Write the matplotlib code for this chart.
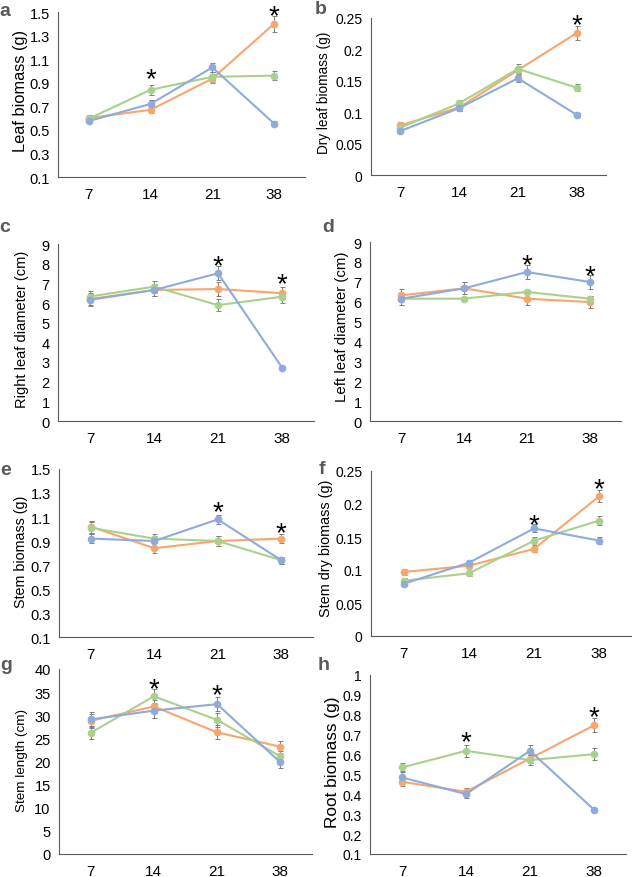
import matplotlib.pyplot as plt

plt.rcParams["font.family"] = ["Liberation Sans", "DejaVu Sans"]

days = ["7", "14", "21", "38"]

# a - leaf biomass (g)
a_orange = [0.60, 0.67, 0.935, 1.40]
a_blue = [0.575, 0.72, 1.03, 0.553]
a_green = [0.595, 0.84, 0.95, 0.96]
a_orange_err = [0.03, 0.03, 0.04, 0.07]
a_blue_err = [0.02, 0.03, 0.04, 0.02]
a_green_err = [0.03, 0.04, 0.04, 0.04]
a_stars = [(1, 1.005), (3, 1.54)]

# b - dry leaf biomass (g)
b_orange = [0.079, 0.1075, 0.167, 0.226]
b_blue = [0.070, 0.1065, 0.154, 0.096]
b_green = [0.0755, 0.114, 0.169, 0.139]
b_orange_err = [0.005, 0.005, 0.006, 0.011]
b_blue_err = [0.003, 0.004, 0.006, 0.003]
b_green_err = [0.004, 0.005, 0.007, 0.006]
b_stars = [(3, 0.253)]

# c - right leaf diameter (cm)
c_orange = [6.2, 6.66, 6.71, 6.50]
c_blue = [6.16, 6.66, 7.51, 2.72]
c_green = [6.33, 6.83, 5.89, 6.32]
c_orange_err = [0.3, 0.3, 0.35, 0.3]
c_blue_err = [0.3, 0.3, 0.35, 0.1]
c_green_err = [0.3, 0.3, 0.3, 0.3]
c_stars = [(2, 8.32), (3, 7.42)]

# d - left leaf diameter (cm)
d_orange = [6.32, 6.67, 6.15, 5.98]
d_blue = [6.15, 6.67, 7.49, 6.99]
d_green = [6.15, 6.15, 6.49, 6.15]
d_orange_err = [0.3, 0.3, 0.3, 0.3]
d_blue_err = [0.3, 0.3, 0.35, 0.35]
d_green_err = [0.1, 0.1, 0.1, 0.15]
d_stars = [(2, 8.3), (3, 7.76)]

# e - stem biomass (g)
e_orange = [1.02, 0.84, 0.90, 0.92]
e_blue = [0.92, 0.90, 1.08, 0.74]
e_green = [1.01, 0.92, 0.90, 0.74]
e_orange_err = [0.05, 0.04, 0.04, 0.04]
e_blue_err = [0.04, 0.04, 0.04, 0.03]
e_green_err = [0.05, 0.04, 0.04, 0.03]
e_stars = [(2, 1.22), (3, 1.04)]

# f - stem dry biomass (g)
f_orange = [0.097, 0.1065, 0.132, 0.212]
f_blue = [0.079, 0.111, 0.163, 0.1445]
f_green = [0.0837, 0.095, 0.1445, 0.175]
f_orange_err = [0.005, 0.004, 0.005, 0.009]
f_blue_err = [0.003, 0.004, 0.006, 0.005]
f_green_err = [0.004, 0.004, 0.006, 0.007]
f_stars = [(2, 0.182), (3, 0.236)]

# g - stem length (cm)
g_orange = [28.8, 31.9, 26.3, 23.2]
g_blue = [29.1, 31.0, 32.4, 19.8]
g_green = [26.2, 34.1, 29.0, 21.1]
g_orange_err = [1.5, 1.5, 1.5, 1.3]
g_blue_err = [1.5, 1.5, 1.5, 1.2]
g_green_err = [1.3, 1.5, 1.5, 1.2]
g_stars = [(1, 37.6), (2, 36.3)]

# h - root biomass (g)
h_orange = [0.463, 0.413, 0.58, 0.747]
h_blue = [0.485, 0.401, 0.619, 0.323]
h_green = [0.535, 0.619, 0.572, 0.602]
h_orange_err = [0.02, 0.02, 0.02, 0.035]
h_blue_err = [0.03, 0.02, 0.03, 0.01]
h_green_err = [0.025, 0.03, 0.025, 0.03]
h_stars = [(1, 0.71), (3, 0.836)]

orange = "#F7A66E"
blue = "#8FAADC"
green = "#A9D18E"

W, H = 632, 878
fig = plt.figure(figsize=(W / 100, H / 100), dpi=100)


def rect(l, r, t, b):
    return [l / W, 1 - b / H, (r - l) / W, (b - t) / H]


panels = [
    # letter, box (l, r, t, b), ylabel, ylabel centre (x, y, size), yticks, ticklabels, series, stars, letter pos
    ("a", (58, 305, 13, 178), "Leaf biomass (g)", (21, 91, 11.8),
     [0.1, 0.3, 0.5, 0.7, 0.9, 1.1, 1.3, 1.5], None,
     (a_orange, a_orange_err, a_green, a_green_err, a_blue, a_blue_err), a_stars, (-1, 12)),
    ("b", (371, 606, 19, 176), "Dry leaf biomass (g)", (324, 92.5, 9.8),
     [0, 0.05, 0.1, 0.15, 0.2, 0.25], ["0", "0.05", "0.1", "0.15", "0.2", "0.25"],
     (b_orange, b_orange_err, b_green, b_green_err, b_blue, b_blue_err), b_stars, (315, 10)),
    ("c", (58, 314, 245, 422), "Right leaf diameter (cm)", (22.5, 329, 10.5),
     list(range(0, 10)), None,
     (c_orange, c_orange_err, c_green, c_green_err, c_blue, c_blue_err), c_stars, (-1, 228)),
    ("d", (370, 621, 243, 422), "Left leaf diameter (cm)", (342, 327, 10.8),
     list(range(0, 10)), None,
     (d_orange, d_orange_err, d_green, d_green_err, d_blue, d_blue_err), d_stars, (322, 228)),
    ("e", (59, 313, 470, 638), "Stem biomass (g)", (21, 552, 10.3),
     [0.1, 0.3, 0.5, 0.7, 0.9, 1.1, 1.3, 1.5], None,
     (e_orange, e_orange_err, e_green, e_green_err, e_blue, e_blue_err), e_stars, (0, 471)),
    ("f", (371, 632, 472, 637), "Stem dry biomass (g)", (326, 548, 10.4),
     [0, 0.05, 0.1, 0.15, 0.2, 0.25], ["0", "0.05", "0.1", "0.15", "0.2", "0.25"],
     (f_orange, f_orange_err, f_green, f_green_err, f_blue, f_blue_err), f_stars, (319, 470)),
    ("g", (59, 312, 670, 855), "Stem length (cm)", (22.5, 760, 9.7),
     list(range(0, 45, 5)), None,
     (g_orange, g_orange_err, g_green, g_green_err, g_blue, g_blue_err), g_stars, (0, 666)),
    ("h", (370, 626, 676, 855), "Root biomass (g)", (332.5, 762, 12.4),
     [0.1, 0.2, 0.3, 0.4, 0.5, 0.6, 0.7, 0.8, 0.9, 1.0],
     ["0.1", "0.2", "0.3", "0.4", "0.5", "0.6", "0.7", "0.8", "0.9", "1"],
     (h_orange, h_orange_err, h_green, h_green_err, h_blue, h_blue_err), h_stars, (318, 666)),
]

x = list(range(len(days)))
star_fs = 20

for letter, box, ylabel, ylab, yticks, ytl, series, stars, lpos in panels:
    l, r, t, b = box
    ax = fig.add_axes(rect(l, r, t, b))
    o, oe, gr, ge, bl, be = series
    for vals, errs, col in [(o, oe, orange), (gr, ge, green), (bl, be, blue)]:
        ax.errorbar(x, vals, yerr=errs, color=col, marker="o", markersize=4.5,
                    linewidth=1.5, ecolor="#7F7F7F", elinewidth=0.7,
                    capsize=1.8, capthick=0.7, clip_on=False)
    for i, yv in stars:
        # put the centre of the asterisk glyph on the given value
        ax.annotate("*", (i, yv), xytext=(0, -0.58 * star_fs), textcoords="offset points",
                    ha="center", va="baseline", fontsize=star_fs, color="black",
                    annotation_clip=False)
    ax.set_xlim(-0.5, 3.5)
    ax.set_ylim(yticks[0], yticks[-1])
    ax.set_xticks(x)
    ax.set_xticklabels(days, fontsize=11)
    ax.set_yticks(yticks)
    if ytl is not None:
        ax.set_yticklabels(ytl, fontsize=10)
    else:
        ax.set_yticklabels([("%g" % v) for v in yticks], fontsize=10.5)
    ax.tick_params(length=0, colors="#000000")
    ax.tick_params(axis="x", pad=7)
    ax.tick_params(axis="y", pad=6)
    for s in ["top", "right"]:
        ax.spines[s].set_visible(False)
    for s in ["left", "bottom"]:
        ax.spines[s].set_color("#595959")
        ax.spines[s].set_linewidth(0.8)
    fig.text(ylab[0] / W, 1 - ylab[1] / H, ylabel, fontsize=ylab[2], rotation=90,
             ha="center", va="center")
    fig.text(lpos[0] / W, 1 - lpos[1] / H, letter, fontsize=14, fontweight="bold",
             color="#595959", ha="left", va="center")

fig.savefig("out.png", dpi=100)
